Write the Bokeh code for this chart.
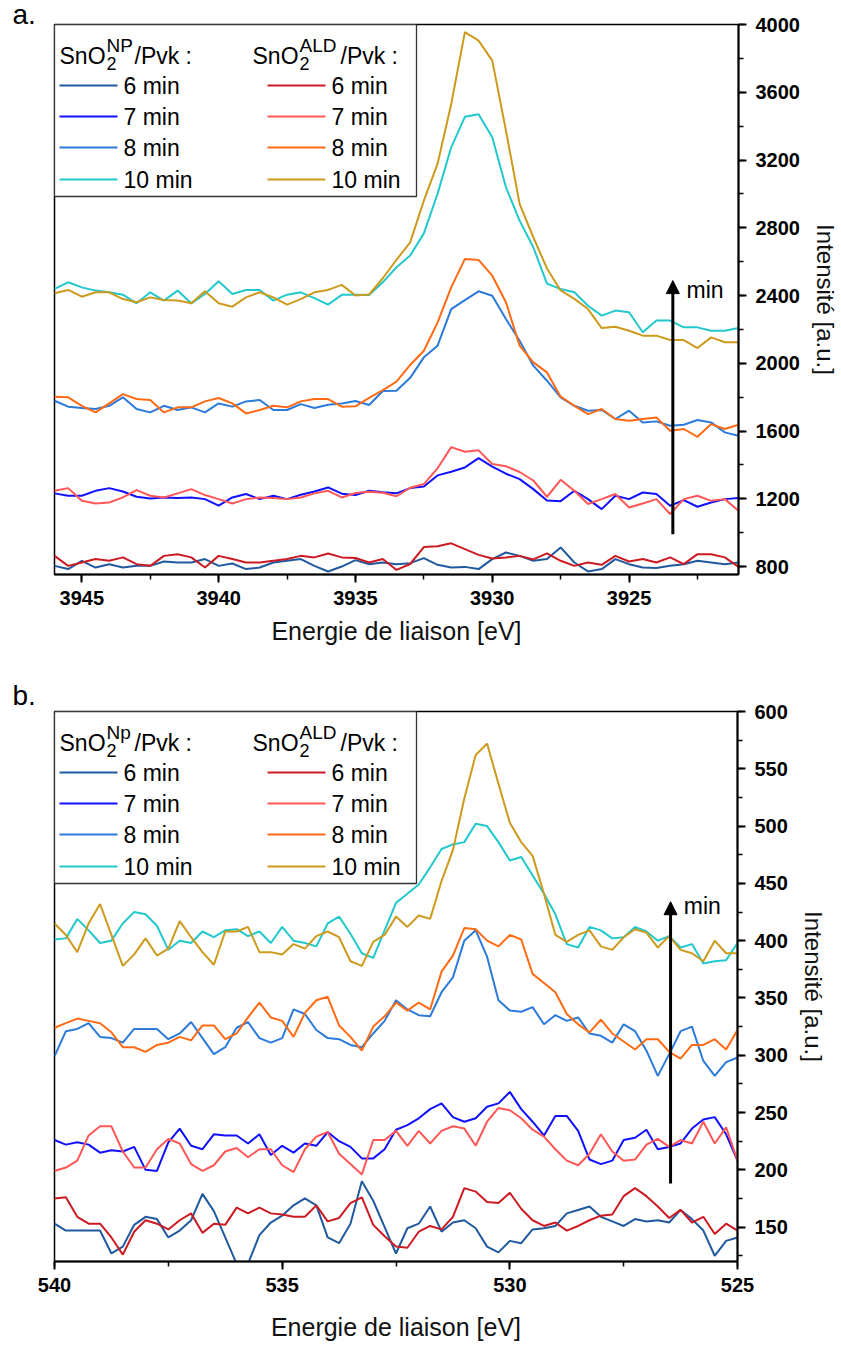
from bokeh.plotting import figure
from bokeh.layouts import column
from bokeh.models import Range1d, SingleIntervalTicker, Arrow, NormalHead, Label
from bokeh.embed import file_html
from bokeh.resources import INLINE
from bokeh.core.properties import value

FONT = "Liberation Sans"

# ---------------- panel a : Sn 3d region ----------------
energy_a = [3946.0, 3945.5, 3945.0, 3944.5, 3944.0, 3943.5, 3943.0, 3942.5, 3942.0, 3941.5,
            3941.0, 3940.5, 3940.0, 3939.5, 3939.0, 3938.5, 3938.0, 3937.5, 3937.0, 3936.5,
            3936.0, 3935.5, 3935.0, 3934.5, 3934.0, 3933.5, 3933.0, 3932.5, 3932.0, 3931.5,
            3931.0, 3930.5, 3930.0, 3929.5, 3929.0, 3928.5, 3928.0, 3927.5, 3927.0, 3926.5,
            3926.0, 3925.5, 3925.0, 3924.5, 3924.0, 3923.5, 3923.0, 3922.5, 3922.0, 3921.5,
            3921.0]

np6_a = [804, 785, 834, 794, 814, 794, 804, 804, 830, 824, 824, 844, 804, 818, 785, 794, 824, 834, 844, 804,
         771, 800, 838, 814, 824, 814, 820, 850, 810, 794, 798, 785, 844, 883, 863, 834, 844, 913, 824, 771,
         785, 844, 814, 794, 791, 804, 814, 834, 824, 814, 824]
np7_a = [1232, 1218, 1218, 1247, 1263, 1243, 1212, 1202, 1208, 1204, 1208, 1198, 1160, 1208, 1228, 1198, 1218,
         1198, 1224, 1243, 1267, 1230, 1222, 1247, 1238, 1232, 1263, 1272, 1338, 1360, 1385, 1440, 1390, 1348,
         1316, 1257, 1190, 1186, 1247, 1198, 1139, 1218, 1198, 1237, 1228, 1159, 1192, 1153, 1178, 1198, 1204]
np8_a = [1779, 1744, 1736, 1730, 1749, 1799, 1730, 1710, 1749, 1724, 1740, 1710, 1763, 1744, 1775, 1783, 1724,
         1724, 1759, 1736, 1755, 1762, 1777, 1754, 1836, 1838, 1914, 2035, 2104, 2320, 2373, 2425, 2399, 2261,
         2133, 1986, 1897, 1799, 1749, 1720, 1724, 1671, 1720, 1651, 1657, 1631, 1637, 1665, 1651, 1592, 1572]
np10_a = [2439, 2478, 2448, 2429, 2419, 2405, 2354, 2419, 2370, 2429, 2354, 2409, 2484, 2409, 2433, 2433, 2370,
          2405, 2419, 2385, 2346, 2404, 2404, 2403, 2478, 2567, 2636, 2767, 3000, 3275, 3455, 3470, 3334, 3039,
          2842, 2685, 2470, 2438, 2419, 2340, 2281, 2311, 2301, 2183, 2252, 2252, 2212, 2212, 2192, 2192, 2208]
ald6_a = [863, 804, 824, 844, 834, 854, 814, 804, 863, 873, 854, 794, 863, 844, 824, 824, 834, 844, 863, 854,
          877, 854, 850, 824, 844, 780, 815, 915, 920, 937, 903, 869, 847, 853, 863, 842, 878, 834, 804, 824,
          810, 863, 830, 844, 824, 854, 814, 873, 873, 854, 798]
ald7_a = [1247, 1263, 1188, 1172, 1178, 1208, 1251, 1218, 1208, 1232, 1257, 1222, 1198, 1172, 1198, 1208, 1204,
          1198, 1208, 1232, 1247, 1208, 1234, 1242, 1236, 1215, 1265, 1287, 1380, 1505, 1478, 1486, 1405, 1392,
          1358, 1308, 1212, 1312, 1247, 1169, 1198, 1228, 1149, 1172, 1198, 1110, 1198, 1218, 1188, 1198, 1129]
ald8_a = [1803, 1799, 1749, 1710, 1763, 1818, 1789, 1783, 1710, 1740, 1740, 1775, 1795, 1763, 1704, 1724, 1749,
          1740, 1775, 1789, 1789, 1744, 1746, 1796, 1842, 1892, 1990, 2074, 2240, 2448, 2616, 2610, 2517, 2360,
          2104, 2005, 1946, 1803, 1749, 1700, 1730, 1671, 1661, 1671, 1680, 1602, 1612, 1566, 1641, 1612, 1637]
ald10_a = [2413, 2433, 2393, 2419, 2419, 2379, 2360, 2389, 2374, 2370, 2354, 2425, 2354, 2334, 2389, 2419, 2389,
           2346, 2379, 2419, 2433, 2463, 2400, 2406, 2502, 2611, 2714, 2960, 3177, 3531, 3955, 3905, 3787, 3374,
           2941, 2744, 2560, 2430, 2380, 2320, 2208, 2216, 2192, 2163, 2163, 2137, 2137, 2090, 2153, 2124, 2124]

# ---------------- panel b : O 1s region ----------------
energy_b = [540.0, 539.75, 539.5, 539.25, 539.0, 538.75, 538.5, 538.25, 538.0, 537.75,
            537.5, 537.25, 537.0, 536.75, 536.5, 536.25, 536.0, 535.75, 535.5, 535.25,
            535.0, 534.75, 534.5, 534.25, 534.0, 533.75, 533.5, 533.25, 533.0, 532.75,
            532.5, 532.25, 532.0, 531.75, 531.5, 531.25, 531.0, 530.75, 530.5, 530.25,
            530.0, 529.75, 529.5, 529.25, 529.0, 528.75, 528.5, 528.25, 528.0, 527.75,
            527.5, 527.25, 527.0, 526.75, 526.5, 526.25, 526.0, 525.75, 525.5, 525.25,
            525.0]

np6_b = [153, 147, 147, 147, 147, 127, 133, 152, 159, 157, 141, 147, 156, 179, 164, 141, 118, 118, 143, 154,
         160, 169, 175, 169, 141, 136, 153, 190, 173, 150, 127, 149, 153, 168, 146, 154, 156, 149, 133, 128,
         138, 136, 148, 149, 151, 162, 165, 168, 159, 155, 151, 157, 155, 156, 154, 165, 157, 147, 125, 138, 141]
np7_b = [226, 222, 224, 222, 215, 217, 216, 220, 200, 199, 224, 236, 221, 218, 231, 230, 230, 223, 231, 213,
         221, 215, 223, 221, 233, 225, 220, 210, 210, 218, 235, 239, 245, 253, 258, 246, 242, 245, 255, 258,
         268, 253, 242, 230, 247, 247, 234, 209, 205, 208, 226, 228, 235, 218, 220, 223, 236, 244, 246, 231, 208]
np8_b = [299, 321, 323, 328, 316, 315, 311, 323, 323, 323, 314, 319, 329, 315, 301, 307, 324, 329, 315, 311,
         315, 340, 336, 322, 315, 314, 309, 307, 319, 330, 348, 340, 335, 334, 355, 368, 400, 409, 386, 348,
         339, 338, 342, 327, 335, 330, 333, 319, 317, 311, 327, 321, 304, 282, 301, 321, 325, 295, 282, 294, 298]
np10_b = [401, 402, 419, 409, 398, 400, 415, 425, 423, 413, 392, 400, 398, 408, 403, 409, 410, 404, 408, 398,
          412, 400, 398, 395, 415, 421, 406, 389, 385, 409, 433, 441, 449, 464, 480, 484, 486, 502, 500, 486,
          470, 473, 457, 441, 423, 397, 394, 412, 409, 402, 403, 412, 408, 400, 404, 394, 397, 380, 382, 383, 398]
ald6_b = [175, 176, 159, 153, 153, 141, 126, 146, 156, 153, 148, 156, 162, 145, 153, 152, 167, 162, 167, 162,
          161, 159, 159, 169, 155, 158, 171, 176, 152, 142, 133, 132, 146, 151, 148, 159, 184, 181, 172, 171,
          180, 166, 156, 151, 154, 147, 151, 156, 160, 161, 177, 184, 177, 168, 158, 165, 154, 159, 144, 153, 147]
ald7_b = [199, 202, 208, 230, 238, 238, 216, 202, 202, 218, 227, 223, 205, 199, 204, 216, 219, 211, 218, 218,
          204, 198, 218, 229, 233, 214, 205, 196, 226, 226, 234, 221, 234, 223, 234, 238, 236, 221, 242, 254,
          252, 245, 235, 229, 218, 208, 204, 214, 231, 216, 208, 209, 222, 227, 220, 226, 223, 242, 223, 237, 208]
ald8_b = [324, 328, 332, 330, 328, 320, 307, 307, 303, 309, 311, 316, 313, 326, 326, 314, 319, 333, 346, 333,
          330, 316, 337, 348, 351, 326, 316, 304, 325, 334, 346, 339, 346, 340, 373, 387, 411, 410, 400, 395,
          405, 401, 371, 363, 355, 336, 327, 320, 331, 319, 312, 305, 314, 314, 303, 297, 309, 309, 314, 305, 322]
ald10_b = [415, 405, 390, 415, 432, 405, 378, 388, 402, 387, 393, 417, 403, 390, 379, 408, 408, 412, 390, 390,
           388, 397, 393, 404, 408, 403, 382, 378, 399, 405, 421, 412, 422, 419, 452, 479, 524, 562, 572, 537,
           503, 486, 474, 441, 405, 399, 405, 409, 395, 392, 403, 410, 407, 394, 404, 392, 389, 382, 400, 389, 389]

times = ["6 min", "7 min", "8 min", "10 min"]
np_colors = ["#21599f", "#1010ff", "#2c7ad9", "#22c8cc"]
ald_colors = ["#cc1a22", "#ff5757", "#ff6a14", "#cc9a1c"]


def style(p, xint, yint, xlab_standoff):
    p.xgrid.visible = False
    p.ygrid.visible = False
    p.outline_line_color = "black"
    p.outline_line_width = 1.5
    p.background_fill_color = "white"
    p.border_fill_color = "white"
    p.xaxis.ticker = SingleIntervalTicker(interval=xint, num_minor_ticks=2)
    p.yaxis.ticker = SingleIntervalTicker(interval=yint, num_minor_ticks=2)
    for ax in (p.xaxis[0], p.yaxis[0]):
        ax.axis_line_width = 2
        ax.axis_line_color = "black"
        ax.major_tick_line_width = 2
        ax.minor_tick_line_width = 1.5
        ax.major_tick_in = 0
        ax.major_tick_out = 8
        ax.minor_tick_in = 0
        ax.minor_tick_out = 5
        ax.major_label_text_font = FONT
        ax.major_label_text_font_size = "20px"
        ax.major_label_text_font_style = "bold"
        ax.major_label_text_color = "black"
        ax.axis_label_text_font = FONT
        ax.axis_label_text_font_size = "25px"
        ax.axis_label_text_font_style = "normal"
        ax.axis_label_text_color = "#111111"
    p.yaxis.axis_label_text_font_size = "24px"
    p.xaxis.major_label_standoff = 8
    p.xaxis.axis_label_standoff = xlab_standoff
    p.yaxis.major_label_standoff = 9
    p.yaxis.axis_label_standoff = 9
    p.xaxis.axis_label = "Energie de liaison [eV]"
    p.yaxis.axis_label = "Intensité [a.u.]"


def make_panel(xr, yr, fw, fh, border_left, border_top, border_bottom, xint, yint, xlab_standoff,
               energy, np_series, ald_series, np_tag, arrow, min_pos, letter, letter_standoff):
    p = figure(x_range=Range1d(*xr), y_range=Range1d(*yr), frame_width=fw, frame_height=fh,
               y_axis_location="right", output_backend="svg", toolbar_location=None,
               min_border_left=border_left, min_border_top=border_top,
               min_border_bottom=border_bottom, min_border_right=0)
    style(p, xint, yint, xlab_standoff)

    for ser, col in zip(np_series, np_colors):
        p.line(energy, ser, line_color=col, line_width=2)
    for ser, col in zip(ald_series, ald_colors):
        p.line(energy, ser, line_color=col, line_width=2)

    # helpers: frame pixel offsets -> data
    def fx(dx):
        return xr[0] + (xr[1] - xr[0]) * dx / fw

    def fy(dy):
        return yr[1] - (yr[1] - yr[0]) * dy / fh

    # legend box
    p.quad(left=[fx(0)], right=[fx(362)], top=[fy(0)], bottom=[fy(172)],
           fill_color="white", line_color="#333333", line_width=1.3)
    big = "23px"
    for x0, sup, slash_x in ((5, np_tag, 80), (198, "ALD", 286)):
        p.text(x=[fx(x0)], y=[fy(31)], text=["SnO"], text_font=value(FONT), text_font_size=big,
               text_baseline="alphabetic", text_align="left", text_color="black")
        p.text(x=[fx(x0 + 47)], y=[fy(39)], text=["2"], text_font=value(FONT), text_font_size="18px",
               text_baseline="alphabetic", text_align="left", text_color="black")
        p.text(x=[fx(x0 + 47)], y=[fy(21)], text=[sup], text_font=value(FONT), text_font_size="19px",
               text_baseline="alphabetic", text_align="left", text_color="black")
        p.text(x=[fx(slash_x)], y=[fy(31)], text=["/Pvk :"], text_font=value(FONT), text_font_size=big,
               text_baseline="alphabetic", text_align="left", text_color="black")
    rows = [61, 92, 123, 155]
    for i, t in enumerate(times):
        dy = rows[i]
        p.line([fx(5), fx(63)], [fy(dy), fy(dy)], line_color=np_colors[i], line_width=2)
        p.text(x=[fx(69)], y=[fy(dy)], text=[t], text_font=value(FONT), text_font_size="23px",
               text_baseline="middle", text_align="left", text_color="black")
        p.line([fx(213), fx(271)], [fy(dy), fy(dy)], line_color=ald_colors[i], line_width=2)
        p.text(x=[fx(277)], y=[fy(dy)], text=[t], text_font=value(FONT), text_font_size="23px",
               text_baseline="middle", text_align="left", text_color="black")

    # arrow "min"
    ax_, y0, y1 = arrow
    p.add_layout(Arrow(end=NormalHead(size=13, fill_color="black", line_color="black"),
                       x_start=ax_, y_start=y0, x_end=ax_, y_end=y1,
                       line_width=3, line_color="black"))
    p.add_layout(Label(x=min_pos[0], y=min_pos[1], text="min", text_font=FONT,
                       text_font_size="23px", text_baseline="middle", text_color="black"))

    # panel letter as a left-shifted title
    p.title.text = letter
    p.title.align = "left"
    p.title.offset = -42
    p.title.standoff = letter_standoff
    p.title.text_font = FONT
    p.title.text_font_size = "28px"
    p.title.text_font_style = "normal"
    p.title.text_color = "black"
    return p


p1 = make_panel((3946, 3921), (753, 4000), 684, 550, 52, 24, 80, 5, 400, 9,
                energy_a, [np6_a, np7_a, np8_a, np10_a], [ald6_a, ald7_a, ald8_a, ald10_a], "NP",
                (3923.4, 990, 2488), (3922.9, 2435), "a.", -10)
p2 = make_panel((540, 525), (120, 600), 683, 550, 54, 57, 5, 5, 50, 18,
                energy_b, [np6_b, np7_b, np8_b, np10_b], [ald6_b, ald7_b, ald8_b, ald10_b], "Np",
                (526.47, 188, 434), (526.18, 430), "b.", 2)

layout = column(p1, p2)
open("out.html", "w").write(file_html(layout, INLINE))
